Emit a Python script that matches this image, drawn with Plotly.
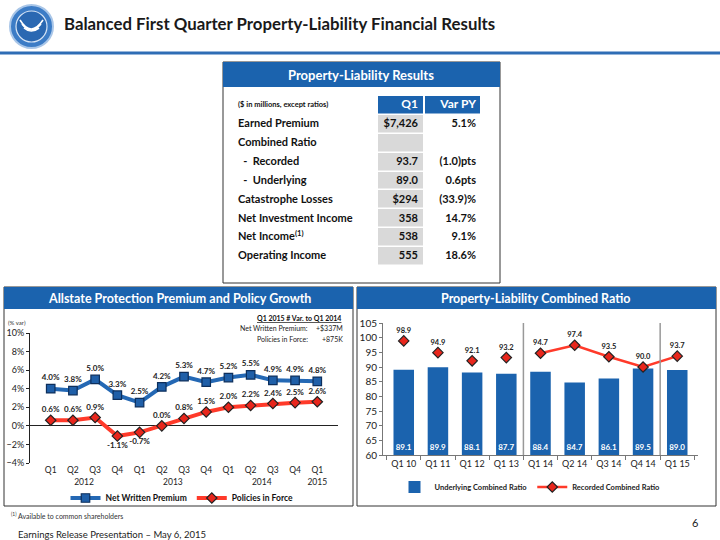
import plotly.graph_objects as go

W, H = 720, 540
FONT = "Lato"
BLUE = "#1B63AE"
RED = "#FF3A2A"

# ---------------- data ----------------
quarters = ["Q1", "Q2", "Q3", "Q4", "Q1", "Q2", "Q3", "Q4", "Q1", "Q2", "Q3", "Q4", "Q1"]
years = ["2012", "2012", "2012", "2012", "2013", "2013", "2013", "2013",
         "2014", "2014", "2014", "2014", "2015"]
nwp_growth = [4.0, 3.8, 5.0, 3.3, 2.5, 4.2, 5.3, 4.7, 5.2, 5.5, 4.9, 4.9, 4.8]
pif_growth = [0.6, 0.6, 0.9, -1.1, -0.7, 0.0, 0.8, 1.5, 2.0, 2.2, 2.4, 2.5, 2.6]

cr_periods = ["Q1 10", "Q1 11", "Q1 12", "Q1 13", "Q1 14", "Q2 14", "Q3 14", "Q4 14", "Q1 15"]
underlying_cr = [89.1, 89.9, 88.1, 87.7, 88.4, 84.7, 86.1, 89.5, 89.0]
recorded_cr = [98.9, 94.9, 92.1, 93.2, 94.7, 97.4, 93.5, 90.0, 93.7]

table_header = ["($ in millions, except ratios)", "Q1", "Var PY"]
table_labels = ["Earned Premium", "Combined Ratio", "\u00a0\u00a0-\u00a0 Recorded",
                "\u00a0\u00a0-\u00a0 Underlying", "Catastrophe Losses",
                "Net Investment Income", "Net Income<sup>(1)</sup>", "Operating Income"]
table_q1 = ["$7,426", "", "93.7", "89.0", "$294", "358", "538", "555"]
table_var = ["5.1%", "", "(1.0)pts", "0.6pts", "(33.9)%", "14.7%", "9.1%", "18.6%"]


def px_x(p):
    return p / W


def px_y(p):
    return 1 - p / H


fig = go.Figure()

# ---------------- left chart ----------------
fig.add_trace(go.Scatter(
    x=[years, quarters], y=nwp_growth, name="Net Written Premium",
    mode="lines+markers+text",
    line=dict(color="#2468B4", width=4),
    marker=dict(symbol="square", size=8.5, color="#1F5FA8", line=dict(color="#0D2F5C", width=1.2)),
    text=[f"{v:.1f}%" for v in nwp_growth], textposition="top center",
    textfont=dict(family=FONT, size=8, color="#222", weight="bold"),
    xaxis="x", yaxis="y", legend="legend", cliponaxis=False,
))
fig.add_trace(go.Scatter(
    x=[years, quarters], y=pif_growth, name="Policies in Force",
    mode="lines+markers+text",
    line=dict(color=RED, width=4),
    marker=dict(symbol="diamond", size=8, color="#E8261C", line=dict(color="#222", width=1.2)),
    text=[f"{v:.1f}%" for v in pif_growth],
    textposition=["bottom center" if v < 0 else "top center" for v in pif_growth],
    textfont=dict(family=FONT, size=8, color="#222", weight="bold"),
    xaxis="x", yaxis="y", legend="legend", cliponaxis=False,
))

# ---------------- right chart ----------------
fig.add_trace(go.Bar(
    x=cr_periods, y=[u - 60 for u in underlying_cr], base=60,
    name="Underlying Combined Ratio", marker=dict(color=BLUE, line=dict(width=0)),
    width=0.6,
    text=[f"{v:.1f}" for v in underlying_cr], textposition="inside",
    insidetextanchor="start", textangle=0, constraintext="none",
    textfont=dict(family=FONT, size=8, color="white", weight="bold"),
    xaxis="x2", yaxis="y2", legend="legend2", hoverinfo="skip",
))
fig.add_trace(go.Scatter(
    x=cr_periods[:4], y=recorded_cr[:4], mode="markers+text", showlegend=False,
    marker=dict(symbol="diamond", size=8, color="#E8261C", line=dict(color="#222", width=1.2)),
    text=[f"{v:.1f}" for v in recorded_cr[:4]], textposition="top center",
    textfont=dict(family=FONT, size=7.5, color="#222", weight="bold"),
    xaxis="x2", yaxis="y2", cliponaxis=False,
))
fig.add_trace(go.Scatter(
    x=cr_periods[4:], y=recorded_cr[4:], mode="lines+markers+text",
    name="Recorded Combined Ratio",
    line=dict(color=RED, width=2.5),
    marker=dict(symbol="diamond", size=8, color="#E8261C", line=dict(color="#222", width=1.2)),
    text=[f"{v:.1f}" for v in recorded_cr[4:]], textposition="top center",
    textfont=dict(family=FONT, size=7.5, color="#222", weight="bold"),
    xaxis="x2", yaxis="y2", legend="legend2", cliponaxis=False,
))

# ---------------- table (cells on their own axes) ----------------
n_rows = len(table_labels) + 1
row_idx = list(range(n_rows))
col_edges = [0, 142, 189, 246]
cell_kind = [[0, 2, 2]] + [[0, 1, 0] for _ in table_labels]
fig.add_trace(go.Heatmap(
    z=cell_kind, x=col_edges, y=row_idx, xaxis="x3", yaxis="y3",
    colorscale=[[0, "white"], [0.5, "#D9D9D9"], [1, BLUE]], zmin=0, zmax=2,
    showscale=False, xgap=2, ygap=1.5, hoverinfo="skip",
))
fig.add_trace(go.Scatter(
    x=[3] * n_rows, y=row_idx, mode="text", showlegend=False, hoverinfo="skip",
    text=[f"<b>{t}</b>" for t in [table_header[0]] + table_labels],
    textposition="middle right",
    textfont=dict(family=FONT, size=[7.5] + [11] * len(table_labels), color="#111"),
    xaxis="x3", yaxis="y3", cliponaxis=False,
))
fig.add_trace(go.Scatter(
    x=[183] * n_rows, y=row_idx, mode="text", showlegend=False, hoverinfo="skip",
    text=[f"<b>{t}</b>" for t in [table_header[1]] + table_q1],
    textposition="middle left",
    textfont=dict(family=FONT, size=[12] + [11] * len(table_q1),
                  color=["white"] + ["#111"] * len(table_q1)),
    xaxis="x3", yaxis="y3", cliponaxis=False,
))
fig.add_trace(go.Scatter(
    x=[241] * n_rows, y=row_idx, mode="text", showlegend=False, hoverinfo="skip",
    text=[f"<b>{t}</b>" for t in [table_header[2]] + table_var],
    textposition="middle left",
    textfont=dict(family=FONT, size=[12] + [11] * len(table_var),
                  color=["white"] + ["#111"] * len(table_var)),
    xaxis="x3", yaxis="y3", cliponaxis=False,
))

shapes = []
# title rule
shapes.append(dict(type="line", xref="paper", yref="paper", x0=0, x1=1,
                   y0=px_y(53), y1=px_y(53), line=dict(color="#2E6DB5", width=3)))
# logo
shapes.append(dict(type="circle", xref="paper", yref="paper", x0=px_x(10), x1=px_x(53),
                   y0=px_y(48), y1=px_y(5), fillcolor="#3C7CC6", line=dict(color="#A9C6E8", width=2)))
shapes.append(dict(type="circle", xref="paper", yref="paper", x0=px_x(16), x1=px_x(47),
                   y0=px_y(42), y1=px_y(11), fillcolor="#2A68B2", line=dict(color="#D6E4F5", width=1.2)))
for off in [0, 4, 8]:
    shapes.append(dict(type="path", xref="paper", yref="paper",
                       path=(f"M {px_x(20 + off / 2)} {px_y(20 + off)} Q {px_x(31)} {px_y(38 - off / 2)} "
                             f"{px_x(43 - off / 2)} {px_y(20 + off)}"),
                       line=dict(color="white", width=1.6)))
# table box
shapes.append(dict(type="rect", xref="paper", yref="paper", x0=px_x(223), x1=px_x(500),
                   y0=px_y(283), y1=px_y(62), line=dict(color="#333", width=1), fillcolor="white",
                   layer="below"))
shapes.append(dict(type="rect", xref="paper", yref="paper", x0=px_x(223), x1=px_x(500),
                   y0=px_y(87), y1=px_y(62), line=dict(width=0), fillcolor=BLUE, layer="below"))
# panels
for x0, x1 in [(4, 353), (357, 716)]:
    shapes.append(dict(type="rect", xref="paper", yref="paper", x0=px_x(x0), x1=px_x(x1),
                       y0=px_y(506), y1=px_y(287), line=dict(color="#333", width=1), layer="below"))
    shapes.append(dict(type="rect", xref="paper", yref="paper", x0=px_x(x0), x1=px_x(x1),
                       y0=px_y(309), y1=px_y(287), line=dict(width=0), fillcolor=BLUE, layer="below"))
# separators in combined ratio chart
for xs in [3.5, 7.5]:
    shapes.append(dict(type="line", xref="x2", yref="y2 domain", x0=xs, x1=xs, y0=0, y1=1,
                       line=dict(color="#999", width=1.5)))

ann = []


def add_text(x, y, text, size, color="#111", xanchor="left", bold=False, yanchor="middle"):
    ann.append(dict(xref="paper", yref="paper", x=px_x(x), y=px_y(y), text=text,
                    showarrow=False, xanchor=xanchor, yanchor=yanchor, borderpad=0,
                    font=dict(family=FONT, size=size, color=color, weight="bold" if bold else "normal")))


add_text(63, 24, "Balanced First Quarter Property-Liability Financial Results", 16.8, "#1a1a1a", bold=True)
add_text(361, 75, "Property-Liability Results", 13, "white", xanchor="center", bold=True)
add_text(179, 298, "Allstate Protection Premium and Policy Growth", 12.5, "white", xanchor="center", bold=True)
add_text(536, 298, "Property-Liability Combined Ratio", 12.5, "white", xanchor="center", bold=True)
add_text(7, 322, "(% var)", 6, "#333")
add_text(342, 318, "<u>Q1 2015 # Var. to Q1 2014</u>", 7, "#111", xanchor="right", bold=True)
add_text(309, 328, "Net Written Premium:", 7, "#222", xanchor="right")
add_text(309, 339, "Policies in Force:", 7, "#222", xanchor="right")
add_text(344, 328, "+$337M", 7, "#222", xanchor="right")
add_text(344, 339, "+875K", 7, "#222", xanchor="right")
add_text(10, 515, "<sup>(1)</sup> Available to common shareholders", 7, "#333")
add_text(17, 534, "Earnings Release Presentation \u2013 May 6, 2015", 9.5, "#222")
add_text(695, 522, "6", 11, "#222", xanchor="center")

axis_font = dict(family=FONT, size=9, color="#222")

fig.update_layout(
    width=W, height=H, margin=dict(l=0, r=0, t=0, b=0, pad=0, autoexpand=False),
    paper_bgcolor="white", plot_bgcolor="rgba(0,0,0,0)",
    font=dict(family=FONT, color="#222"),
    shapes=shapes, annotations=ann,
    xaxis=dict(domain=[px_x(30), px_x(338)], type="multicategory", showdividers=False,
               showline=False, ticks="", tickfont=dict(family=FONT, size=8.5, color="#222"),
               showgrid=False, anchor="y", automargin=False),
    yaxis=dict(domain=[px_y(463), px_y(333)], range=[-4, 10], dtick=2, ticksuffix="%",
               showline=True, linecolor="#222", linewidth=1, ticks="outside", ticklen=3,
               tickcolor="#222", showgrid=False, zeroline=True, zerolinecolor="#222",
               zerolinewidth=1, tickfont=axis_font, anchor="x", automargin=False),
    xaxis2=dict(domain=[px_x(383), px_x(698)], type="category", showline=True,
                linecolor="#777", ticks="outside", tickson="boundaries", ticklen=4,
                tickcolor="#777", tickfont=axis_font, showgrid=False, anchor="y2",
                automargin=False),
    yaxis2=dict(domain=[px_y(455), px_y(323)], range=[60, 105], dtick=5,
                showline=True, linecolor="#777", ticks="outside", ticklen=3, tickcolor="#777",
                showgrid=False, zeroline=False, tickfont=dict(family=FONT, size=10, color="#222"),
                anchor="x2", automargin=False),
    xaxis3=dict(domain=[px_x(235), px_x(481)], range=[0, 246], visible=False, anchor="y3",
                fixedrange=True, automargin=False),
    yaxis3=dict(domain=[px_y(266), px_y(96)], range=[n_rows - 0.5, -0.5], visible=False,
                anchor="x3", fixedrange=True, automargin=False),
    legend=dict(orientation="h", x=px_x(182), y=px_y(498), xanchor="center", yanchor="middle",
                font=dict(family=FONT, size=8.5, color="#111", weight="bold"),
                bgcolor="rgba(0,0,0,0)", itemwidth=30, tracegroupgap=0),
    legend2=dict(orientation="h", x=px_x(530), y=px_y(487), xanchor="center", yanchor="middle",
                 font=dict(family=FONT, size=7.5, color="#222", weight="bold"),
                 bgcolor="rgba(0,0,0,0)", itemwidth=30),
)

fig.write_html("out.html", config={"displayModeBar": False},
               post_script="document.body.style.margin='0';document.body.style.overflow='hidden';")
